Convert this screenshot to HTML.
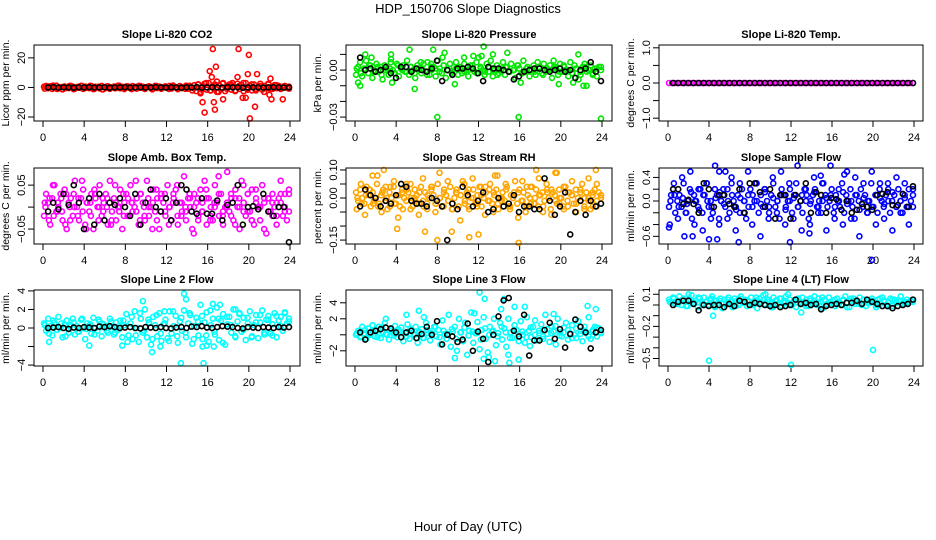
<!DOCTYPE html>
<html><head><meta charset="utf-8"><style>
body{margin:0;background:#fff;}
svg{display:block;font-family:"Liberation Sans",sans-serif;}
</style></head><body>
<svg id="chart" width="936" height="540" viewBox="0 0 936 540">
<text x="468" y="13" text-anchor="middle" font-size="13">HDP_150706  Slope Diagnostics</text>
<text x="468" y="531" text-anchor="middle" font-size="13">Hour of Day (UTC)</text>
</svg>
<script>
const xTicks=[0,4,8,12,16,20,24];
// CO2 (ppm/min)
const co2Main=[0.5,1,-0.5,0.8,-1,0.3,1.2,-0.6,0.2,-1.3,0.7,0.1,-0.4,1,0.5,-0.8,0.3,-0.2,1.1,-1,0.6,0,-0.5,0.9,-1.2,0.4,0.2,-0.7,1,0.3,-0.4,0.8,-0.9,0.1,0.6,-0.3,1.2,-0.6,0.4,-1.1,0.7,0,-0.5,0.9,0.2,-0.8,1,-0.2,0.5,-1,0.3,0.8,-0.6,0.1,1.1,-0.4,0.6,-0.9,0.2,0.7,-0.3,1,-0.7,0.4,0,-1.2,0.9,-0.5,0.3,1.2,-0.8,0.5,-2,1.5,-2.5,2,-3,1,2.5,-1.5,3,-2,0.5,2,-3,1.5,-1,3,-2.5,1,2,-1.5,0.5,-2,2.5,-1,1.5,-2.5,3,-0.5,1,-2,2,-1,0.5,2.5,-1.5,1,-0.5,2,-1,0.5,1.5,-0.5,1,-1,0.5,0.8,-0.3,0.5];
const co2B=[-0.8,0.6,1.3,-1,0.2,-0.5,1,-1.2,0.4,0.9,-0.3,1.1,-0.9,0.5,-1.4,0.7,0.1,-0.6,1.2,-0.2,0.8,-1.1,0.3,1,-0.7,0.5,-1.3,0.9,-0.1,0.6,-1,1.3,-0.4,0.2,-0.9,1.1,-0.5,2,-1.5,3,-2,1.5,-3,2.5,-1,2,-2.5,1,3,-1.5,2,-2,1,-3,2.5,-1,1.5,-0.5,1,-0.8];
const co2OutT=[15.3,15.5,15.7,16.2,16.4,16.5,16.6,16.7,16.8,16.9,17.5,18.9,19.0,19.4,19.7,19.9,20.0,20.1,20.6,20.8,22.0,22.1,22.2,23.3,17.0,18.4];
const co2OutV=[-4,-10,-17,11,7,26,-10,-15,14,4,-8,7,26,-7,-7,9,22,-21,-13,9,-5,6,-8,-8,-3,3];
const co2Black=[0,0.2,-0.1,0.1,0,-0.2,0.1,0,0.2,-0.1,0,0.1,-0.2,0,0.1,0.2,-0.1,0,0.1,-0.1,0,0.2,0,-0.1,0.1,0,-0.2,0.1,0,0.2,-0.1,0,0.1,0,-0.1,0.2,0,0.1,-0.2,0,0.1,0,-0.1,0.1,0.2,0,-0.1,0];
// Pressure (1e-3 kPa/min)
const presMain=[-3,2,5,-4,1,6,-2,3,-5,0,4,-1,2,-6,3,1,-3,5,0,-2,4,-4,1,3,-1,6,-3,2,0,-5,3,1,-2,4,-1,5,-3,0,2,-4,6,1,-2,3,-5,0,4,-1,2,5,-3,1,-2,4,0,-4,3,1,-1,5,-2,2,0,-3,4,-1,6,-4,1,3,-2,0,5,-3,2,-1,4,0,-5,3,1,-2,6,-1,2,-4,0,3,-3,5,1,-2,4,-1,0,3,-5,2,1,-3,4,-1,2,0,-4,5,-2,3,1,-6,-3,2,4,-1,0,3,-2,1,-4,2,0];
const presB=[1,-2,0,3,-1,2,-3,0,1,-2,3,0,-1,2,-2,1,0,-3,2,1,-1,3,0,-2,1,2,-1,0,3,-2,1,-1,2,0,-3,1,2,-1,0,3,-2,1,0,-1,2,-3,1,0,2,-1,3,0,-2,1,-1,2,0,-3,1,2];
const presOutT=[0.3,0.5,1,1.6,3.5,3.5,3.6,5.3,5.8,7.4,7.6,8.0,8.7,8.5,9.7,10.6,12.0,12.5,12.3,13.4,14.8,15.9,16.1,19.3,19.8,21.2,21.7,22.2,22.5,23.9,6.4,11.5];
const presOutV=[-8,-10,10,8,10,7,-8,13,-12,4,13,-30,11,8,-9,8,8,15,9,10,11,-30,-8,6,-9,-8,10,-10,-10,-31,5,9];
const presBlack=[8,0,1,-1,0,2,-2,-5,2,2,-1,1,0,-1,1,6,-7,0,-3,1,1,2,1,-2,-7,2,1,1,0,-1,-6,-4,-1,0,1,1,0,-1,0,1,-1,0,-5,0,1,5,-1,-7];
// Li-820 temp (C/min)
const tempMain=[0,0,0,0,0,0,0,0,0,0,0,0,0,0,0,0,0,0,0,0,0,0,0,0,0,0,0,0,0,0,0,0,0,0,0,0,0,0,0,0,0,0,0,0,0,0,0,0,0,0,0,0,0,0,0,0,0,0,0,0,0,0,0,0,0,0,0,0,0,0,0,0,0,0,0,0,0,0,0,0];
const tempBlack=[0,0,0,0,0,0,0,0,0,0,0,0,0,0,0,0,0,0,0,0,0,0,0,0,0,0,0,0,0,0,0,0,0,0,0,0,0,0,0,0,0,0,0,0,0,0,0,0];
// Amb box temp (0.01 C/min)
const ambMain=[-2,3,1,-4,2,5,-1,0,3,-3,4,-5,1,2,-2,6,0,-3,2,4,-4,1,-1,3,-5,2,0,5,-2,1,3,-4,6,-1,2,-3,0,4,-5,1,3,-2,5,-1,0,2,-4,3,1,-3,6,-2,0,4,-1,2,-5,3,1,-2,5,0,-3,2,4,-4,1,-1,7,-3,2,0,-5,3,1,-2,4,-1,6,-4,2,0,-3,5,1,-2,3,-4,0,8,-1,2,-3,4,0,-5,6,1,-2,3,-1,4,-4,2,0,-3,5,1,-6,2,-1,3,0,-4,2,1,-2,3,-3,4];
const ambB=[1,-3,5,-1,2,-4,0,3,-2,6,-5,1,4,-3,2,0,-4,5,-1,3,-2,1,6,-3,0,2,-5,4,-1,3,-4,1,5,-2,0,3,-6,2,-1,4,-3,1,7,-2,0,3,-4,2,5,-1,-3,4,0,-5,2,1,-2,6,-1,3];
const ambC=[0,2,-2,1,-1,3,-3,0,2,-1,1,-2,3,0,-1,2,-3,1,0,-2,2,1,-1,3,-2,0,1,-3,2,-1,0,3,-2,1,-1,2,0,-3,1,2,-2,0,3,-1,1,-2,2,0,-1,3,-3,1,0,2,-1,-2,1,3,0,-1];
const ambBlack=[-1,1,-0.5,3,0.5,5,1,-5,2,-4,3,-3,1,0.5,2,0,-2,3,-4,1,4,0,-1,2,-3,1,5,4,-1,-1.5,2,-1.5,-1.5,1.5,-3,0.5,1,5,-4,0,0.2,-0.5,3,-1,-2,0,0,-8];
// Gas stream RH (0.01 %/min)
const rhMain=[2,-1,3,0,-2,4,1,-3,2,0,5,-2,1,3,-1,-4,2,0,4,-2,1,-3,3,0,-1,2,5,-3,0,1,-2,4,-1,2,-4,0,3,1,-2,5,0,-3,2,1,-1,4,-2,0,3,-3,1,6,-1,2,-4,0,3,-2,1,4,-3,0,2,-1,5,-2,1,3,-4,0,2,-1,4,-3,1,0,6,-2,3,-1,2,-5,1,0,4,-2,3,-3,1,2,-1,5,0,-4,2,1,-2,3,0,-3,4,-1,2,1,-2,3,0,-1,5,-3,2,0,-4,1,3,-1,2,0];
const rhB=[-4,5,-6,3,-2,8,-5,4,-3,6,-7,2,5,-4,3,-6,7,-2,4,-5,9,-3,6,-4,2,-8,5,-3,7,-2,4,-6,3,-5,8,-1,5,-4,2,-7,6,-3,4,-2,7,-5,3,-6,9,-2,4,-3,6,-5,2,-4,7,-3,5,1];
const rhC=[0,-2,1,3,-1,-3,2,0,4,-2,1,-4,3,0,-1,2,-3,1,4,-2,0,3,-1,-4,2,1,-2,3,0,-3,1,4,-1,2,-2,0,3,-3,1,2,-1,4,-2,0,1,-3,2,3,-1,0,-4,2,1,-2,3,0,-1,2,-3,1];
const rhOutT=[1.7,2.8,6.8,4.1,8.0,9.4,11.1,13.6,15.9,17.6,19.6,23.4,12.0];
const rhOutV=[8,10,-12,-11,-15,-12,-14,8,-16,10,9,10,-13];
const rhBlack=[-3,3,1,0,-3,-1,-2,1,5,4,-1,-2,-2,-3,0,-1,-3,-15,-2,-4,4,1,-3,-1,2,-5,-4,0,-3,-2,1,-5,-3,-3,-4,-4,7,-1,-6,-3,2,-13,-5,-1,-6,-1,-3,-2];
// Sample flow (0.1 mL/min)
const spMain=[-1,1,2,-2,0,1,-1,3,-2,0,2,-3,1,0,-1,2,-2,1,3,-1,0,-2,2,1,-3,0,1,-1,2,-2,3,0,-1,1,-2,2,0,-3,1,2,-1,0,3,-2,1,-1,2,0,-2,1,3,-1,0,-3,2,1,-1,0,2,-2,1,3,-1,0,-2,2,1,-3,0,1,2,-1,0,-2,3,1,-1,0,2,-2,1,0,-1,3,-2,1,0,2,-1,-3,1,0,2,-1,1,-2,0,3,-1,1,-2,2,0,-1,1,3,-2,0,1,-1,2,0,-2,1,-1,2,0,-1];
const spB=[-4,3,-3,4,-2,5,-4,2,-5,3,-3,6,-4,2,-3,4,-5,3,-2,5,-4,3,-6,2,-3,4,-2,5,-4,3,-3,6,-5,2,-4,4,-2,3,-5,6,-3,2,-4,5,-3,4,-6,3,-2,5,-4,3,-3,2,-5,4,-2,3,-4,2];
const spC=[0,1,-1,0.5,-0.5,1.5,0,-1.5,1,0,-1,0.5,1.5,-0.5,0,1,-1.5,0.5,0,-1,1,0,-0.5,1.5,-1,0.5,0,1,-1.5,0,0.5,-1,1,0,-0.5,1.5,-1,0,0.5,1,-1,0,1.5,-0.5,0,1,-1.5,0.5,0,-1,1,0.5,-0.5,0,1.5,-1,0,0.5,-1,1];
const spOutT=[0.1,1.6,2.4,4.0,4.8,5.0,5.6,6.9,11.9,13.8,19.9,17.2,14.9];
const spOutV=[-4.5,-6,-6,-6.5,-6.5,5,5,-7,-7,-5.5,-10,4.5,4.3];
const spBlack=[2,2,-0.5,0.2,-0.5,-2,3,2,-1,1,1,-0.5,-1,2,-2,3,3,1.5,-1,2,-3,1,1,-3,1,0,3,-2,1.5,1,-2,0.5,0.3,-1.5,0,-2,-1.5,-0.5,-1,-1.5,1,1.2,1.5,-0.7,-0.7,1.2,-1,2.5];
// Line 2 flow (mL/min)
const l2Main=[0.5,-0.3,1,0.2,-0.8,0.6,-0.2,1.2,0,-1,0.4,0.8,-0.5,0.3,1,-0.7,0.2,-0.4,0.9,0,-1.2,0.5,0.3,-0.6,1.1,0,-0.3,0.7,-0.9,0.4,0.2,-0.5,1,0.1,-0.7,0.6,-0.2,0.8,-1,0.3,1.5,-0.8,0.5,-1.2,1.8,0,-1.5,1,-0.5,2,-1,0.6,-1.8,1.2,0.3,-0.9,1.6,-1.4,0.4,0.9,-1.1,1.8,-0.6,0.2,1.3,-1.6,0.7,-0.3,1.9,-1,0.5,1.4,-1.7,0.2,1.1,-0.8,2.5,-1.2,0.6,1.7,-1.5,0.3,1,-0.7,2.2,-1.3,0.8,1.5,-1.8,0.4,1.2,-0.5,2,-1,0.7,1.6,-0.4,1.1,-1.3,0.5,1.8,-0.9,0.3,1.4,-1.1,0.6,1.9,-0.7,0.9,1.3,-0.6,0.4,1.6,-1,0.8,1.2,-0.3,1.7,0.5,1];
const l2B=[0.3,-0.6,0.8,-0.2,0.5,-0.9,0.2,0.6,-0.4,1,-0.1,0.4,-0.7,0.9,0.1,-0.3,0.7,-0.5,0.2,0.8,-1.5,1.2,-0.8,1.6,-0.3,0.9,-1.2,1.4,-0.6,0.5,-1.4,1.8,-0.9,1.1,-0.5,1.6,-1.2,0.7,1.3,-0.8,1.9,-0.4,1,-1.6,1.2,0.3,-0.9,1.5,-0.2,1.1,-1,0.6,1.4,-0.5,0.9,-0.8,1.3,0.2,1.6,0.7];
const l2OutT=[0.6,4.5,7.7,9.7,10.6,11.4,13.4,13.7,13.9,15.6,15.9,16.5,16.6,17.2,18.7,15.5,11.8];
const l2OutV=[-1.5,-1.9,-1.9,2.9,-2.6,-2,-3.8,3.7,3.1,-3.8,-1.9,2.6,-2,2.5,2,-2,1.8];
const l2Black=[0,0.05,0.1,0,-0.1,0.05,0,0.1,0.05,0,0.15,0.1,0.2,0.1,0,0.05,0.1,0,-0.05,0.1,0.05,0,0.1,0,-0.05,0.05,0.1,0,0.15,0.1,0.2,0.05,0,0.1,0.2,0.15,0.1,0,-0.05,0.1,0.05,0,0.1,0.05,0,0.1,0.05,0.1];
// Line 3 flow (mL/min)
const l3Main=[0,0.5,-0.3,1,0.2,-0.5,0.8,0,1.2,-0.2,0.5,1,-0.4,0.3,1.5,0,-0.6,0.7,0.2,1.1,-0.3,0.4,0.9,-0.8,0.2,1.3,-0.5,0.6,0,1,-1,0.3,0.7,-0.4,1.5,0.2,-0.7,0.5,1,-0.2,0.6,-1.2,1.8,0.1,-0.5,2.5,-1.5,0.4,1,-2,2,0.3,-0.8,1.5,-2.5,0.5,2.8,-1,0.2,1.6,-1.8,0.6,2.2,-0.5,-2.2,1,0.4,2,-1.3,0.2,1.5,-0.6,0.8,-1.5,2,0.3,-0.4,1.2,0.6,-0.8,1.7,0,-1,2.2,0.5,-0.3,1,1.8,-0.7,0.2,1.3,-0.5,2.5,0.1,-0.9,1.1,0.4,-1.2,2,0.3,-0.2,0.9,1.5,-0.6,0.2,1.2,0,-0.4,1.7,0.5,-0.8,1,0.3,2.2,-0.5,0.6,1,-0.2,0.8,0.3];
const l3B=[0.2,-0.2,0.6,0,0.4,-0.3,0.9,0.1,0.5,-0.1,0.7,0.3,-0.2,0.8,0,0.4,-0.4,0.6,0.2,1,-0.3,0.5,0.1,0.7,-0.5,0.3,0.9,-0.1,0.4,0.2,-0.6,0.8,0,0.5,-0.2,1,0.3,-0.4,0.6,0.1,0.4,-0.3,0.9,0,0.5,-0.2,0.7,0.2,1.1,-0.1,0.3,0.6,-0.4,0.8,0.1,0.5,-0.2,0.4,0.9,0.2];
const l3OutT=[6.2,6.7,5.0,9.7,12.1,12.5,12.6,13.6,14.5,15.0,15.5,15.9,16.5,17.0,14.2,19.3,22.6,23.4,13.0,14.9,3.0,11.6];
const l3OutV=[3,2.2,2.5,-2.9,5.3,-3,4.5,-3.3,4.5,-3.5,3.5,-3.1,3.5,-1.4,3.2,2.6,3.6,3.2,-2.8,-2.5,2,2.7];
const l3Black=[0.3,-0.6,0.3,0.5,0.7,0.9,0.8,0.3,-0.3,0.3,0.5,-0.4,0.1,1,0,1.7,-1.2,0,-0.2,-0.9,-0.6,1.4,-2,0.4,-0.5,-3.4,0,2.3,4.3,4.6,0.5,-0.2,2.5,-2.6,-0.7,-0.7,0.6,1.5,-0.5,0.7,-1.6,0.1,1.9,1,0.3,-1.7,0.3,0.6];
// Line 4 flow (0.01 mL/min)
const l4Main=[5,2,7,1,4,8,0,6,3,-1,5,9,2,4,-2,6,1,7,3,0,5,8,-1,4,2,6,-3,5,1,7,3,-2,6,4,0,8,2,5,-1,3,7,1,4,-3,6,2,9,0,5,3,-2,7,4,1,6,-1,3,8,2,5,0,4,-2,6,3,7,1,5,-1,4,2,8,0,6,3,-3,5,1,7,2,4,-1,6,3,0,5,8,2,-2,4,6,1,3,7,0,5,-1,4,2,6,3,-2,5,1,7,4,0,3,6,-1,5,2,4,8,1,3,5,2,4,3];
const l4B=[3,6,1,4,-1,5,2,7,0,3,6,-2,4,1,5,3,-1,6,2,4,0,7,3,1,5,-2,4,6,2,0,3,5,1,-1,6,4,2,7,0,3,5,1,4,-2,6,3,1,5,2,4,0,6,3,-1,5,2,4,1,3,5];
const l4OutT=[4.0,12.0,20.0,2.0,4.4,11.7,9.5,13.0];
const l4OutV=[-52,-56,-42,10,-10,10,10,-7];
const l4Black=[0,3,4,4,1,-5,0,-1,0,0,-2,1,-1,4,3,0,2,1,0,-1,0,-2,-1,0,5,1,2,0,1,-4,-1,0,1,0,2,2,4,1,5,3,1,-1,-1,-3,-1,0,1,5];

const svg=document.getElementById('chart');
const NS='http://www.w3.org/2000/svg';
function mk(tag,attrs,parent){const e=document.createElementNS(NS,tag);for(const k in attrs)e.setAttribute(k,attrs[k]);(parent||svg).appendChild(e);return e;}

const panels=[
 {name:'co2',title:'Slope Li-820 CO2',ylab:'Licor ppm per min.',col:0,row:0,color:'#ff0000',ymin:-22.7,ymax:28.7,yt:[-20,0,20],yl:['\u221220','0','20'],main:[co2Main,co2B],out:[co2OutT,co2OutV],black:co2Black},
 {name:'pressure',title:'Slope Li-820 Pressure',ylab:'kPa per min.',col:1,row:0,color:'#00e600',ymin:-32.5,ymax:16,yt:[-30,-20,-10,0,10],yl:['\u22120.03','','','0.00',''],main:[presMain,presB],out:[presOutT,presOutV],black:presBlack},
 {name:'li820-temp',title:'Slope Li-820 Temp.',ylab:'degrees C per min.',col:2,row:0,color:'#ff00ff',ymin:-1.08,ymax:1.08,yt:[-1,-0.5,0,0.5,1],yl:['\u22121.0','','0.0','','1.0'],main:[tempMain],out:null,black:tempBlack},
 {name:'amb-box-temp',title:'Slope Amb. Box Temp.',ylab:'degrees C per min.',col:0,row:1,color:'#ff00ff',ymin:-8.4,ymax:8.9,yt:[-5,0,5],yl:['\u22120.05','','0.05'],main:[ambMain,ambB,ambC],out:null,black:ambBlack},
 {name:'gas-stream-rh',title:'Slope Gas Stream RH',ylab:'percent per min.',col:1,row:1,color:'#ffa500',ymin:-16.4,ymax:10.7,yt:[-15,-10,-5,0,5,10],yl:['\u22120.15','','','0.00','','0.10'],main:[rhMain,rhB,rhC],out:[rhOutT,rhOutV],black:rhBlack},
 {name:'sample-flow',title:'Slope Sample Flow',ylab:'ml/min per min.',col:2,row:1,color:'#0000ff',ymin:-7.3,ymax:5.6,yt:[-6,-4,-2,0,2,4],yl:['\u22120.6','','','0.0','','0.4'],main:[spMain,spB,spC],out:[spOutT,spOutV],black:spBlack},
 {name:'line2-flow',title:'Slope Line 2 Flow',ylab:'ml/min per min.',col:0,row:2,color:'#00ffff',ymin:-4.1,ymax:4.1,yt:[-4,-2,0,2,4],yl:['\u22124','','0','2','4'],main:[l2Main,l2B],out:[l2OutT,l2OutV],black:l2Black},
 {name:'line3-flow',title:'Slope Line 3 Flow',ylab:'ml/min per min.',col:1,row:2,color:'#00ffff',ymin:-3.9,ymax:5.6,yt:[-2,0,2,4],yl:['\u22122','','2','4'],main:[l3Main,l3B],out:[l3OutT,l3OutV],black:l3Black},
 {name:'line4-flow',title:'Slope Line 4 (LT) Flow',ylab:'ml/min per min.',col:2,row:2,color:'#00ffff',ymin:-57,ymax:14,yt:[-50,-40,-30,-20,-10,0,10],yl:['\u22120.5','','','\u22120.2','','','0.1'],main:[l4Main,l4B],out:[l4OutT,l4OutV],black:l4Black}
];
const colX=[[34,300,43,290],[346,612,355,602],[659,923,668,914]];
const rowY=[[45,121],[168,244],[290,366]];

panels.forEach(p=>{
 const [bx0,bx1,t0,t24]=colX[p.col];const [by0,by1]=rowY[p.row];
 const g=mk('g',{});
 
 
 const xs=v=>t0+(t24-t0)*v/24;
 const ys=v=>by1-(by1-by0)*(v-p.ymin)/(p.ymax-p.ymin);
 const t=mk('text',{x:(bx0+bx1)/2,y:by0-7,'text-anchor':'middle','font-size':'11','font-weight':'bold'},g);
 t.textContent=p.title;
 
 
 const yl=mk('text',{transform:`translate(${bx0-25},${(by0+by1)/2}) rotate(-90)`,'text-anchor':'middle','font-size':'10.5'},g);
 yl.textContent=p.ylab;
 
 
 const xa=mk('g',{},g);
 
 
 xTicks.forEach(v=>{
  mk('line',{x1:xs(v),x2:xs(v),y1:by1,y2:by1+6,stroke:'#000'},xa);
  const l=mk('text',{x:xs(v),y:by1+20,'text-anchor':'middle','font-size':'11'},xa);
  l.textContent=v;
  
  
 });
 const ya=mk('g',{},g);
 
 
 p.yt.forEach((v,i)=>{
  mk('line',{x1:bx0-6,x2:bx0,y1:ys(v),y2:ys(v),stroke:'#000'},ya);
  if(p.yl[i]){const l=mk('text',{transform:`translate(${bx0-9},${ys(v)}) rotate(-90)`,'text-anchor':'middle','font-size':'11'},ya);
  l.textContent=p.yl[i];
  
  }
 });
 const pts=mk('g',{fill:'none','stroke-width':'1.6'},g);
 
 
 p.main.forEach((arr,k)=>{
  arr.forEach((v,i)=>{
   const hr=0.1+k*0.07+(23.8-k*0.07)*i/(arr.length-1);
   const c=mk('circle',{cx:xs(hr),cy:ys(v),r:2.5,stroke:p.color},pts);
   
   
  });
 });
 if(p.out){p.out[0].forEach((hr,i)=>{
   const c=mk('circle',{cx:xs(hr),cy:ys(p.out[1][i]),r:2.5,stroke:p.color},pts);
   
   
 });}
 p.black.forEach((v,i)=>{
   const hr=0.5+23.4*i/(p.black.length-1);
   const c=mk('circle',{cx:xs(hr),cy:ys(v),r:2.5,stroke:'#000'},pts);
   
   
 });
 const box=mk('rect',{x:bx0,y:by0,width:bx1-bx0,height:by1-by0,fill:'none',stroke:'#000'},g);
 
 
});
</script>
</body></html>
